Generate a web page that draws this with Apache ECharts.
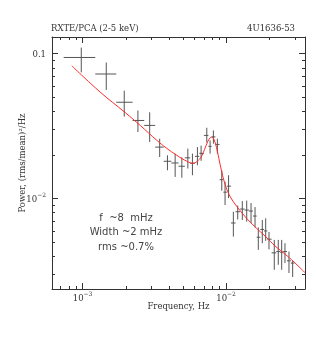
<!DOCTYPE html>
<html>
<head>
<meta charset="utf-8">
<script src="https://cdn.jsdelivr.net/npm/echarts@6/dist/echarts.min.js"></script>
<style>html,body{margin:0;padding:0;background:#fff;}#c{width:316px;height:347px;}</style>
</head>
<body>
<div id="c"></div>
<script>
// ---- data ----
const freq = [9.79e-4, 1.462e-3, 1.951e-3, 2.430e-3, 2.935e-3, 3.446e-3, 3.904e-3, 4.417e-3, 4.918e-3, 5.414e-3,
  5.829e-3, 6.315e-3, 6.699e-3, 7.339e-3, 7.738e-3, 8.158e-3, 8.698e-3, 9.335e-3, 9.840e-3, 1.041e-2,
  1.124e-2, 1.206e-2, 1.298e-2, 1.393e-2, 1.493e-2, 1.592e-2, 1.678e-2, 1.789e-2, 1.889e-2, 1.992e-2,
  2.168e-2, 2.312e-2, 2.442e-2, 2.574e-2, 2.745e-2, 2.912e-2];
const binEdges = [7.38e-4, 1.226e-3, 1.716e-3, 2.232e-3, 2.688e-3, 3.206e-3, 3.674e-3, 4.155e-3, 4.665e-3, 5.160e-3,
  5.618e-3, 6.067e-3, 6.510e-3, 7.006e-3, 7.529e-3, 7.939e-3, 8.424e-3, 9.010e-3, 9.577e-3, 1.013e-2,
  1.083e-2, 1.165e-2, 1.252e-2, 1.345e-2, 1.443e-2, 1.541e-2, 1.635e-2, 1.733e-2, 1.838e-2, 1.939e-2,
  2.077e-2, 2.239e-2, 2.376e-2, 2.505e-2, 2.658e-2, 2.825e-2, 2.998e-2];
const power = [0.0939, 0.0722, 0.0461, 0.0345, 0.0319, 0.0226, 0.01804, 0.01756, 0.01667, 0.01906,
  0.01748, 0.01952, 0.02047, 0.02722, 0.02287, 0.02658, 0.02359, 0.01346, 0.01104, 0.01215,
  0.006767, 0.008091, 0.008443, 0.008310, 0.008180, 0.007556, 0.005395, 0.006106, 0.005963, 0.005228,
  0.004210, 0.004297, 0.004256, 0.004297, 0.003711, 0.003578];
const powerLo = [0.0741, 0.0561, 0.0367, 0.0287, 0.0245, 0.0193, 0.01564, 0.01407, 0.01389, 0.01607,
  0.01445, 0.01693, 0.01818, 0.02435, 0.02038, 0.02385, 0.02038, 0.01131, 0.00900, 0.01005,
  0.005448, 0.007152, 0.007096, 0.006907, 0.006767, 0.006301, 0.004415, 0.004909, 0.005091, 0.004450,
  0.003218, 0.003483, 0.003218, 0.003578, 0.003054, 0.002867];
const powerHi = [0.1099, 0.0867, 0.0554, 0.0404, 0.0393, 0.0258, 0.01983, 0.02038, 0.01921, 0.02205,
  0.02038, 0.02262, 0.02312, 0.03073, 0.02514, 0.02945, 0.02582, 0.01564, 0.01304, 0.01445,
  0.008091, 0.008923, 0.009582, 0.009658, 0.009284, 0.008713, 0.006301, 0.007096, 0.007288, 0.005869,
  0.005171, 0.005171, 0.005171, 0.004909, 0.004297, 0.003694];
const modelFreq = [8.41e-4, 1.328e-3, 1.982e-3, 2.521e-3, 3.294e-3, 3.823e-3, 4.538e-3, 5.328e-3, 5.893e-3, 6.414e-3,
  6.775e-3, 7.086e-3, 7.434e-3, 7.738e-3, 7.926e-3, 8.120e-3, 8.385e-3, 8.728e-3, 9.084e-3, 9.454e-3,
  9.840e-3, 1.024e-2, 1.083e-2, 1.155e-2, 1.252e-2, 1.356e-2, 1.493e-2, 1.678e-2, 1.898e-2, 2.193e-2,
  2.493e-2, 2.866e-2, 3.170e-2, 3.54e-2];
const modelPower = [0.0823, 0.0541, 0.0391, 0.0319, 0.02514, 0.02233, 0.01983, 0.01804, 0.01748, 0.01833,
  0.01968, 0.02181, 0.02455, 0.02616, 0.02649, 0.02616, 0.02435, 0.02080, 0.01720, 0.01445,
  0.01254, 0.01122, 0.01005, 0.00914, 0.00824, 0.00750, 0.00677, 0.00606, 0.00542, 0.00470,
  0.00424, 0.00377, 0.00343, 0.00308];
const xMinorTicks = [7e-4, 8e-4, 9e-4, 2e-3, 3e-3, 4e-3, 5e-3, 6e-3, 7e-3, 8e-3, 9e-3, 2e-2, 3e-2];
const yMinorTicks = [3e-3, 4e-3, 5e-3, 6e-3, 7e-3, 8e-3, 9e-3, 0.02, 0.03, 0.04, 0.05, 0.06, 0.07, 0.08, 0.09];
const xRange = [6.12e-4, 0.0355];
const yRange = [0.00237, 0.130];
const titleLeft = 'RXTE/PCA (2-5 keV)';
const titleRight = '4U1636-53';
const xName = 'Frequency, Hz';
const yName = 'Power, (rms/mean)\u00B2/Hz';
const notes = ['f  ~8  mHz', 'Width ~2 mHz', 'rms ~0.7%'];

// ---- build ----
const errData = freq.map((f, i) => [f, power[i], powerLo[i], powerHi[i], binEdges[i], binEdges[i + 1]]);
const modelData = modelFreq.map((f, i) => [f, modelPower[i]]);
const frameColor = '#333';
const textColor = '#333';
const serif = '"DejaVu Serif", serif';
const sans = '"DejaVu Sans", sans-serif';

function isPow10(v) { const l = Math.log10(v); return Math.abs(l - Math.round(l)) < 1e-6; }
const supRich = {
  b: { fontFamily: serif, fontSize: 8.5, color: textColor, lineHeight: 12, verticalAlign: 'bottom' },
  s: { fontFamily: serif, fontSize: 6, color: textColor, lineHeight: 12, verticalAlign: 'top' }
};
function xFmt(v) { if (!isPow10(v)) return ''; const e = Math.round(Math.log10(v)); return '{b|10}{s|\u2212' + (-e) + '}'; }
function yFmt(v) { if (!isPow10(v)) return ''; const e = Math.round(Math.log10(v)); if (e === -1) return '{b|0.1}'; return '{b|10}{s|\u2212' + (-e) + '}'; }

const baseAxis = {
  type: 'log', logBase: 10,
  axisLine: { show: true, lineStyle: { color: frameColor, width: 1 } },
  axisTick: { show: true, inside: true, length: 6, lineStyle: { color: frameColor, width: 1 } },
  splitLine: { show: false },
  minorTick: { show: false },
  minorSplitLine: { show: false }
};

const chart = echarts.init(document.getElementById('c'), null, { renderer: 'canvas' });
chart.setOption({
  animation: false,
  backgroundColor: '#fff',
  title: [
    { text: titleLeft, left: 51, top: 24, padding: 0, textStyle: { fontFamily: serif, fontSize: 8.5, fontWeight: 'normal', color: textColor } },
    { text: titleRight, right: 21, top: 24, padding: 0, textStyle: { fontFamily: serif, fontSize: 8.5, fontWeight: 'normal', color: textColor } }
  ],
  grid: { left: 52, right: 11, top: 37, bottom: 58, containLabel: false, outerBoundsMode: 'none' },
  xAxis: [
    Object.assign({}, baseAxis, {
      position: 'bottom', min: xRange[0], max: xRange[1],
      name: xName, nameLocation: 'middle', nameGap: 13, nameMoveOverlap: false,
      nameTextStyle: { fontFamily: serif, fontSize: 8.5, color: textColor },
      axisLabel: { show: true, formatter: xFmt, rich: supRich, margin: 2, showMinLabel: true, showMaxLabel: true }
    }),
    Object.assign({}, baseAxis, {
      position: 'top', min: xRange[0], max: xRange[1], axisLabel: { show: false }
    })
  ],
  yAxis: [
    Object.assign({}, baseAxis, {
      position: 'left', min: yRange[0], max: yRange[1],
      name: yName, nameLocation: 'middle', nameGap: 25, nameRotate: 90, nameMoveOverlap: false,
      nameTextStyle: { fontFamily: serif, fontSize: 8.5, color: textColor },
      axisLabel: { show: true, formatter: yFmt, rich: supRich, margin: 6 }
    }),
    Object.assign({}, baseAxis, {
      position: 'right', min: yRange[0], max: yRange[1], axisLabel: { show: false }
    })
  ],
  graphic: notes.map((t, i) => ({
    type: 'text', x: 126, y: 218 + i * 14.6,
    style: { text: t, fill: '#444', font: '10px ' + sans, textAlign: 'center', textVerticalAlign: 'middle' }
  })),
  series: [
    {
      type: 'custom', name: 'minorX', xAxisIndex: 0, yAxisIndex: 0, clip: false, silent: true,
      data: xMinorTicks.map(v => [v, yRange[0]]),
      renderItem: function (params, api) {
        const cs = params.coordSys;
        const p = api.coord([api.value(0), yRange[0]]);
        const x = Math.round(p[0]) + 0.5;
        const bottom = cs.y + cs.height, top = cs.y;
        return { type: 'group', children: [
          { type: 'line', shape: { x1: x, y1: bottom, x2: x, y2: bottom - 3 }, style: { stroke: frameColor, lineWidth: 1 } },
          { type: 'line', shape: { x1: x, y1: top, x2: x, y2: top + 3 }, style: { stroke: frameColor, lineWidth: 1 } }
        ] };
      }
    },
    {
      type: 'custom', name: 'minorY', xAxisIndex: 0, yAxisIndex: 0, clip: false, silent: true,
      data: yMinorTicks.map(v => [xRange[0], v]),
      renderItem: function (params, api) {
        const cs = params.coordSys;
        const p = api.coord([xRange[0], api.value(1)]);
        const y = Math.round(p[1]) + 0.5;
        const left = cs.x, right = cs.x + cs.width;
        return { type: 'group', children: [
          { type: 'line', shape: { x1: left, y1: y, x2: left + 3, y2: y }, style: { stroke: frameColor, lineWidth: 1 } },
          { type: 'line', shape: { x1: right, y1: y, x2: right - 3, y2: y }, style: { stroke: frameColor, lineWidth: 1 } }
        ] };
      }
    },
    {
      type: 'custom', name: 'data', xAxisIndex: 0, yAxisIndex: 0, silent: true,
      encode: { x: 0, y: 1 },
      data: errData,
      renderItem: function (params, api) {
        const c = api.coord([api.value(0), api.value(1)]);
        const lo = api.coord([api.value(0), api.value(2)]);
        const hi = api.coord([api.value(0), api.value(3)]);
        const l = api.coord([api.value(4), api.value(1)]);
        const r = api.coord([api.value(5), api.value(1)]);
        const st = { stroke: '#555', lineWidth: 1 };
        return { type: 'group', children: [
          { type: 'line', shape: { x1: c[0], y1: lo[1], x2: c[0], y2: hi[1] }, style: st },
          { type: 'line', shape: { x1: l[0], y1: c[1], x2: r[0], y2: c[1] }, style: st }
        ] };
      }
    },
    {
      type: 'line', name: 'model', xAxisIndex: 0, yAxisIndex: 0,
      data: modelData, showSymbol: false, smooth: 0.4, silent: true,
      lineStyle: { color: '#ff2a2a', width: 1 }
    }
  ]
});
</script>
</body>
</html>
